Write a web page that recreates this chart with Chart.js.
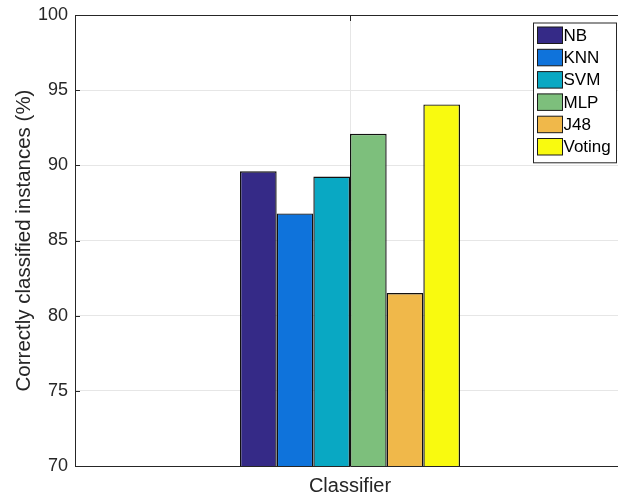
<!DOCTYPE html>
<html>
<head>
<meta charset="utf-8">
<script src="https://cdn.jsdelivr.net/npm/chart.js@4/dist/chart.umd.min.js"></script>
<style>
html,body{margin:0;padding:0;background:#fff;overflow:hidden;}
#wrap{width:640px;height:498px;position:relative;}
</style>
</head>
<body>
<div id="wrap"><canvas id="c" width="640" height="498"></canvas></div>
<script>
const categories = ['Classifier'];
const seriesNames = ['NB', 'KNN', 'SVM', 'MLP', 'J48', 'Voting'];
const seriesValues = [[89.6], [86.8], [89.25], [92.1], [81.5], [94.05]];
const seriesColors = ['#352a87', '#0f73db', '#09a8c3', '#7dbf7c', '#f0b84a', '#f9fa0f'];
const yTicks = [70, 75, 80, 85, 90, 95, 100];

const FONT = "'Liberation Sans', Arial, sans-serif";
const AX = '#262626';

const boxPlugin = {
  id: 'boxPlugin',
  afterDraw(chart) {
    const ctx = chart.ctx;
    const a = chart.chartArea;
    const y = chart.scales.y, x = chart.scales.x;
    ctx.save();
    ctx.strokeStyle = AX;
    ctx.lineWidth = 1;
    ctx.beginPath();
    ctx.moveTo(a.left, Math.round(a.top) + 0.5);
    ctx.lineTo(a.right, Math.round(a.top) + 0.5);
    ctx.stroke();
    yTicks.forEach(v => {
      const py = Math.round(y.getPixelForValue(v)) + 0.5;
      ctx.beginPath();
      ctx.moveTo(a.left, py);
      ctx.lineTo(a.left + 5, py);
      ctx.stroke();
    });
    const px = Math.round(x.getPixelForTick(0)) + 0.5;
    ctx.beginPath();
    ctx.moveTo(px, a.top);
    ctx.lineTo(px, a.top + 6);
    ctx.stroke();

    const lx = 533, ly = 22.5, lw = 83, rowH = 22.3;
    const lh = 8 + rowH * chart.data.datasets.length - 2;
    ctx.fillStyle = '#fff';
    ctx.fillRect(lx, ly, lw, lh);
    ctx.strokeStyle = AX;
    ctx.strokeRect(lx + 0.5, ly + 0.5, lw, lh);
    ctx.font = '17px ' + FONT;
    ctx.textBaseline = 'middle';
    ctx.textAlign = 'left';
    chart.data.datasets.forEach((ds, i) => {
      const sy = ly + 4.5 + i * rowH;
      ctx.fillStyle = ds.backgroundColor;
      ctx.fillRect(lx + 4.5, sy, 25, 16.5);
      ctx.strokeStyle = '#1a1a1a';
      ctx.strokeRect(lx + 4.5, sy, 25, 16.5);
      ctx.fillStyle = '#000';
      ctx.fillText(ds.label, lx + 30.5, sy + 9);
    });
    ctx.restore();
  }
};

new Chart(document.getElementById('c'), {
  type: 'bar',
  data: {
    labels: categories,
    datasets: seriesNames.map((n, i) => ({
      label: n,
      data: seriesValues[i],
      backgroundColor: seriesColors[i],
      borderColor: '#111111',
      borderWidth: 1.4,
      borderSkipped: false
    }))
  },
  options: {
    responsive: false,
    animation: false,
    categoryPercentage: 0.4,
    barPercentage: 1.0,
    layout: { padding: { top: 15, right: 15, left: 0, bottom: 0 } },
    plugins: { legend: { display: false }, tooltip: { enabled: false } },
    scales: {
      x: {
        grid: { display: true, offset: false, color: '#e6e6e6', drawTicks: false },
        border: { display: true, color: AX, width: 1 },
        ticks: { display: false },
        title: { display: true, text: 'Classifier', color: AX, font: { family: FONT, size: 20 }, padding: { top: 0, bottom: 0 } },
        afterFit(s) { s.height = 32; s.paddingLeft = 0; s.paddingRight = 0; }
      },
      y: {
        min: 70, max: 100,
        afterBuildTicks(s) { s.ticks = yTicks.map(v => ({ value: v })); },
        grid: { color: '#e6e6e6', drawTicks: false },
        border: { display: true, color: AX, width: 1 },
        ticks: { color: AX, font: { family: FONT, size: 18 }, padding: 7 },
        title: { display: true, text: 'Correctly classified instances (%)', color: AX, font: { family: FONT, size: 20.5 }, padding: { top: 12, bottom: 0 } },
        afterFit(s) { s.width = 75; s.paddingTop = 0; s.paddingBottom = 0; }
      }
    }
  },
  plugins: [boxPlugin]
});
</script>
</body>
</html>
